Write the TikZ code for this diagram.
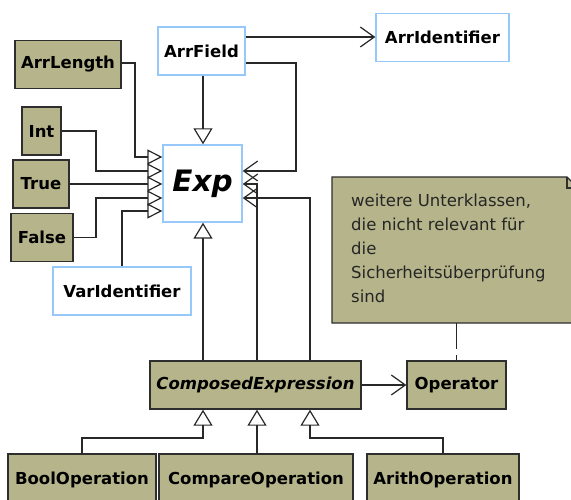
\documentclass[tikz,border=0pt]{standalone}
\usepackage{fontspec}
\setmainfont{DejaVu Sans}
\usetikzlibrary{arrows.meta}
\definecolor{olivefill}{RGB}{181,180,138}
\definecolor{boxline}{RGB}{46,46,46}
\definecolor{blueline}{RGB}{150,200,250}
\definecolor{wire}{RGB}{40,40,40}
\newcommand{\lblfont}{\fontsize{16.5}{20}\selectfont\bfseries}
\tikzset{
  cls/.style={draw=boxline, fill=olivefill, line width=1.4pt, font=\lblfont,
    inner sep=0pt, minimum height=48pt},
  wcls/.style={draw=blueline, fill=white, line width=1.4pt, font=\lblfont,
    inner sep=0pt, minimum height=48pt},
  wireline/.style={draw=wire, line width=1.3pt},
  inh/.style={wireline, -{Triangle[open, length=16pt, width=19pt, line width=1.2pt]}},
  inhs/.style={wireline, -{Triangle[open, length=15pt, width=15pt, line width=1.2pt]}},
  assoc/.style={wireline, -{Straight Barb[length=14pt, width=20pt, line width=1.2pt]}},
  notelink/.style={wireline, dash pattern=on 26pt off 6pt},
}
\begin{document}
\begin{tikzpicture}[x=1pt, y=-1pt]
\useasboundingbox (0,0) rectangle (571,500);

% classes
\node[wcls, minimum width=87pt]  (arrfield) at (201.5,51) {ArrField};
\node[wcls, minimum width=133pt] (arrident) at (442.5,37.5) {ArrIdentifier};
\node[cls,  minimum width=106pt] (arrlength) at (68,64.5) {ArrLength};
\node[cls,  minimum width=39pt]  (int) at (41.5,131) {Int};
\node[cls,  minimum width=56pt]  (true) at (41,184) {True};
\node[cls,  minimum width=62pt]  (false) at (42,237.5) {False};
\node[wcls, minimum width=138pt] (varident) at (122,291) {VarIdentifier};
\node[wcls, minimum width=79pt, minimum height=77pt,
      font=\fontsize{29.5}{32}\selectfont\bfseries\itshape] (exp) at (202.5,183.5) {Exp};
\node[cls, minimum width=211pt, minimum height=48pt, font=\lblfont\itshape] (ce) at (255.5,385) {ComposedExpression};
\node[cls, minimum width=99pt, minimum height=48pt] (operator) at (456.5,385) {Operator};
\node[cls, minimum width=148pt, minimum height=52pt] (boolop) at (82,480) {BoolOperation};
\node[cls, minimum width=194pt, minimum height=52pt] (cmpop) at (256,480) {CompareOperation};
\node[cls, minimum width=152pt, minimum height=52pt] (arithop) at (443,480) {ArithOperation};

% note with folded corner
\draw[draw=boxline, fill=olivefill, line width=1.4pt]
  (332,177) -- (567,177) -- (578,188) -- (578,323) -- (332,323) -- cycle;
\draw[draw=boxline, line width=1.2pt] (567,177) -- (567,188) -- (578,188);
\node[anchor=north west, inner sep=0pt, align=left, text=black!85,
      font=\fontsize{16.5}{24}\selectfont] (note) at (351,194)
  {weitere Unterklassen,\\die nicht relevant für\\die\\Sicherheitsüberprüfung\\sind};
\coordinate (notebottom) at (456.5,323);

% generalisations into Exp
\draw[inhs] (arrlength.east |- 0,63) -| (135,157) -- (exp.west |- 0,157);
\draw[inhs] (int.east) -| (96,171) -- (exp.west |- 0,171);
\draw[inhs] (true.east) -- (exp.west |- true.east);
\draw[inhs] (false.east) -| (96,198) -- (exp.west |- 0,198);
\draw[inhs] (varident.north -| 122,0) -- (122,211) -- (exp.west |- 0,211);
\draw[inh] (arrfield.south -| 203,0) -- (exp.north -| 203,0);
\draw[inh] (ce.north -| 203,0) -- (exp.south -| 203,0);

% associations
\draw[assoc] (arrfield.east |- 0,37) -- (arrident.west |- 0,37);
\draw[assoc] (arrfield.east |- 0,63) -| (296,171) -- (exp.east |- 0,171);
\draw[assoc] (ce.north -| 257,0) -- (257,184) -- (exp.east |- 0,184);
\draw[assoc] (ce.north -| 310,0) -- (310,198) -- (exp.east |- 0,198);
\draw[assoc] (ce.east) -- (operator.west);

% note link
\draw[notelink] (notebottom) -- (operator.north);

% subclasses of ComposedExpression
\draw[inh] (boolop.north) |- (203,438) -- (ce.south -| 203,0);
\draw[inh] (cmpop.north -| 257,0) -- (ce.south -| 257,0);
\draw[inh] (arithop.north) |- (310,438) -- (ce.south -| 310,0);
\end{tikzpicture}
\end{document}
